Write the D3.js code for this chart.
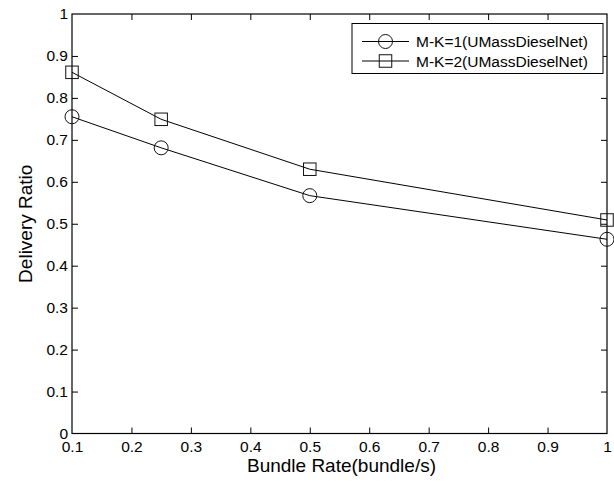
<!DOCTYPE html>
<html>
<head>
<meta charset="utf-8">
<script src="https://cdn.jsdelivr.net/npm/d3@7"></script>
<style>
  html, body { margin: 0; padding: 0; background: #fff; }
  svg { display: block; }
  text { font-family: "Liberation Sans", Arial, Helvetica, sans-serif; fill: #000; }
</style>
</head>
<body>
<svg id="chart" width="614" height="483"></svg>
<script>
// Bundle rates (bundle/s) on the x axis
const bundleRates = [0.1, 0.25, 0.5, 1];
// Delivery ratio per series
const mk1Values = [0.755, 0.681, 0.567, 0.463];
const mk2Values = [0.861, 0.749, 0.630, 0.509];
const seriesNames = ["M-K=1(UMassDieselNet)", "M-K=2(UMassDieselNet)"];
const markerShapes = ["circle", "square"];
const xTickValues = [0.1, 0.2, 0.3, 0.4, 0.5, 0.6, 0.7, 0.8, 0.9, 1];
const yTickValues = [0, 0.1, 0.2, 0.3, 0.4, 0.5, 0.6, 0.7, 0.8, 0.9, 1];

const series = [
  { name: seriesNames[0], shape: markerShapes[0], values: mk1Values },
  { name: seriesNames[1], shape: markerShapes[1], values: mk2Values }
];

const svg = d3.select("#chart");
const plot = { left: 72, right: 607, top: 14, bottom: 433.5 };

const x = d3.scaleLinear().domain([0.1, 1]).range([plot.left, plot.right]);
const y = d3.scaleLinear().domain([0, 1]).range([plot.bottom, plot.top]);

const tickLen = 6;
const tickFont = 15.5;
const fmt = d => String(+d.toFixed(2));

// Bottom axis with labels, ticks pointing inward
const xAxis = svg.append("g")
  .attr("transform", `translate(0,${plot.bottom})`)
  .call(d3.axisBottom(x).tickValues(xTickValues).tickFormat(fmt)
    .tickSizeInner(-tickLen).tickSizeOuter(0).tickPadding(7.5));
// Left axis with labels
const yAxis = svg.append("g")
  .attr("transform", `translate(${plot.left},0)`)
  .call(d3.axisLeft(y).tickValues(yTickValues).tickFormat(fmt)
    .tickSizeInner(-tickLen).tickSizeOuter(0).tickPadding(4));
// Mirrored top and right ticks (box style)
const xTop = svg.append("g")
  .attr("transform", `translate(0,${plot.top})`)
  .call(d3.axisTop(x).tickValues(xTickValues).tickFormat("")
    .tickSizeInner(-tickLen).tickSizeOuter(0));
const yRight = svg.append("g")
  .attr("transform", `translate(${plot.right},0)`)
  .call(d3.axisRight(y).tickValues(yTickValues).tickFormat("")
    .tickSizeInner(-tickLen).tickSizeOuter(0));

[xAxis, yAxis, xTop, yRight].forEach(g => {
  g.select(".domain").remove();
  g.selectAll(".tick line").attr("stroke", "#000").attr("stroke-width", 1);
  g.selectAll(".tick text").style("font-size", tickFont + "px")
    .style("font-family", "'Liberation Sans', Arial, Helvetica, sans-serif")
    .attr("fill", "#000");
});
// Hide tick marks that sit on the box corners
xAxis.selectAll(".tick line").filter(d => d === 0.1 || d === 1).remove();
xTop.selectAll(".tick line").filter(d => d === 0.1 || d === 1).remove();
yAxis.selectAll(".tick line").filter(d => d === 0 || d === 1).remove();
yRight.selectAll(".tick line").filter(d => d === 0 || d === 1).remove();

// Plot frame
svg.append("rect")
  .attr("x", plot.left).attr("y", plot.top)
  .attr("width", plot.right - plot.left).attr("height", plot.bottom - plot.top)
  .attr("fill", "none").attr("stroke", "#000").attr("stroke-width", 1.2);

// Series lines and markers
const line = d3.line().x((d, i) => x(bundleRates[i])).y(d => y(d));
const circleR = 7;
const squareSize = 12.5;

function drawMarker(g, shape, cx, cy) {
  if (shape === "circle") {
    g.append("circle").attr("cx", cx).attr("cy", cy).attr("r", circleR)
      .attr("fill", "none").attr("stroke", "#111").attr("stroke-width", 1);
  } else {
    g.append("rect").attr("x", cx - squareSize / 2).attr("y", cy - squareSize / 2)
      .attr("width", squareSize).attr("height", squareSize)
      .attr("fill", "none").attr("stroke", "#111").attr("stroke-width", 1);
  }
}

series.forEach(s => {
  const g = svg.append("g");
  g.append("path").datum(s.values).attr("d", line)
    .attr("fill", "none").attr("stroke", "#000").attr("stroke-width", 1);
  s.values.forEach((v, i) => drawMarker(g, s.shape, x(bundleRates[i]), y(v)));
});

// Legend
const legend = svg.append("g");
const lg = { x: 352, y: 23.5, w: 251, h: 50 };
legend.append("rect").attr("x", lg.x).attr("y", lg.y).attr("width", lg.w).attr("height", lg.h)
  .attr("fill", "#fff").attr("stroke", "#000").attr("stroke-width", 1);
series.forEach((s, i) => {
  const cy = 41.5 + i * 19.5;
  legend.append("line").attr("x1", 362).attr("x2", 409).attr("y1", cy).attr("y2", cy)
    .attr("stroke", "#000").attr("stroke-width", 1);
  drawMarker(legend, s.shape, 385.5, cy);
  legend.append("text").attr("x", 416).attr("y", cy + 5.5)
    .style("font-size", "15.5px").text(s.name);
});

// Axis titles
svg.append("text")
  .attr("x", (plot.left + plot.right) / 2 + 2).attr("y", 471.5)
  .attr("text-anchor", "middle").style("font-size", "19px")
  .text("Bundle Rate(bundle/s)");
svg.append("text")
  .attr("transform", `translate(32,${(plot.top + plot.bottom) / 2}) rotate(-90)`)
  .attr("text-anchor", "middle").style("font-size", "19px")
  .text("Delivery Ratio");
</script>
</body>
</html>
